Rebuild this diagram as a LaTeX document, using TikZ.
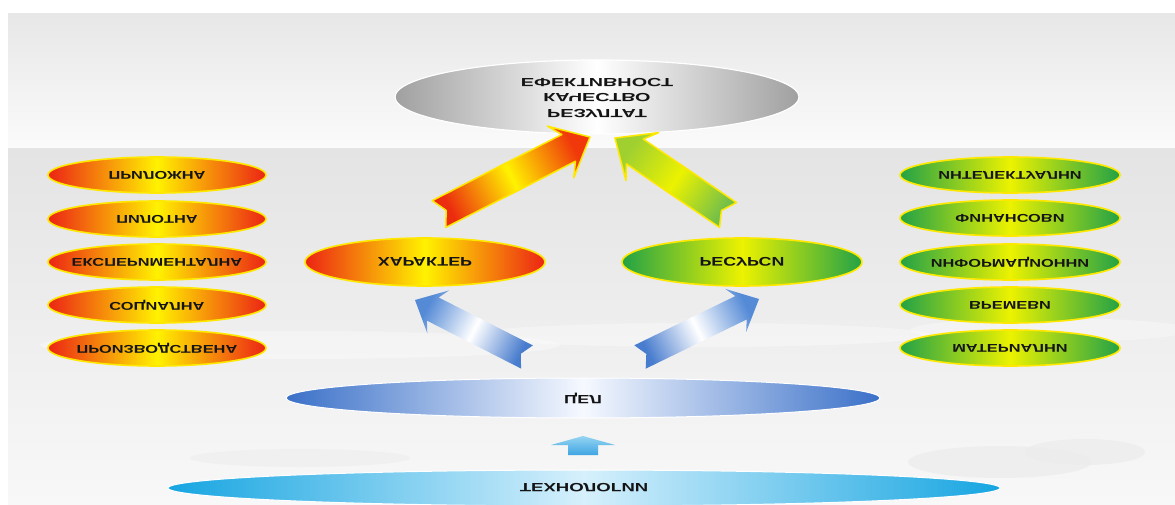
\documentclass[tikz,border=0pt]{standalone}
\usepackage{fontspec}
\setmainfont{Liberation Sans}
\usetikzlibrary{shapes.geometric,calc}
\definecolor{redE}{RGB}{236,36,20}
\definecolor{yelC}{RGB}{255,242,0}
\definecolor{yelO}{RGB}{255,232,0}
\definecolor{greenE}{RGB}{34,162,70}
\definecolor{greenC}{RGB}{236,242,0}
\definecolor{grayE}{RGB}{160,160,160}
\definecolor{blueE}{RGB}{58,112,200}
\definecolor{blueC}{RGB}{246,249,255}
\definecolor{cyanE}{RGB}{22,165,225}
\definecolor{cyanC}{RGB}{214,240,252}
\definecolor{txt}{RGB}{20,20,20}
\definecolor{bgA}{RGB}{231,231,231}
\definecolor{bgB}{RGB}{251,251,251}
\definecolor{bgC}{RGB}{228,228,228}
\definecolor{bgD}{RGB}{248,248,248}
\definecolor{cloud}{RGB}{236,236,236}
\definecolor{oTail}{RGB}{236,44,14}
\definecolor{oHead}{RGB}{240,56,10}
\definecolor{gTail}{RGB}{118,192,72}
\definecolor{gHead}{RGB}{160,208,48}
\definecolor{bTail}{RGB}{72,124,206}
\definecolor{bHead}{RGB}{84,138,214}
\definecolor{uTop}{RGB}{150,212,242}
\definecolor{uBot}{RGB}{62,165,226}
\newcommand\mirtxt[2]{\makebox[0pt]{\scalebox{#1}[-1]{#2}}}
% #1 tail, #2 tip, #3 half shaft, #4 half head, #5 neck distance, #6 barb distance, #7 notch, #8 style
\newcommand\blockarr[8]{%
  \coordinate (ba-n) at ($(#2)!#5!(#1)$);
  \coordinate (ba-b) at ($(#2)!#6!(#1)$);
  \coordinate (ba-k) at ($(#1)!#7!(#2)$);
  \path[#8] (#2) -- ($(ba-b)!#4!90:(#2)$) -- ($(ba-n)!#3!90:(#2)$)
    -- ($(#1)!#3!90:(#2)$) -- (ba-k) -- ($(#1)!#3!-90:(#2)$)
    -- ($(ba-n)!#3!-90:(#2)$) -- ($(ba-b)!#4!-90:(#2)$) -- cycle;
}
\tikzset{
  ell/.style={ellipse, inner sep=0pt, text=txt, font=\bfseries\fontsize{11.3}{13}\selectfont},
  redell/.style={ell, draw=yelO, line width=1.6pt, left color=redE, right color=redE, middle color=yelC},
  greenell/.style={ell, draw=yelO, line width=1.6pt, left color=greenE, right color=greenE, middle color=greenC},
  grayell/.style={ell, draw=white, line width=1.2pt, left color=grayE, right color=grayE, middle color=white},
  blueell/.style={ell, draw=white, line width=1pt, left color=blueE, right color=blueE, middle color=blueC},
  cyanell/.style={ell, draw=white, line width=1pt, left color=cyanE, right color=cyanE, middle color=cyanC},
  smallsz/.style={minimum width=218pt, minimum height=36pt},
  rightsz/.style={minimum width=220pt, minimum height=36pt},
  oarr/.style={draw=yelO, line width=1.5pt, line join=round, top color=oHead, bottom color=oTail, middle color=yelC, shading angle=#1},
  garr/.style={draw=yelO, line width=1.5pt, line join=round, top color=gHead, bottom color=gTail, middle color=greenC, shading angle=#1},
  barr/.style={top color=bHead, bottom color=bTail, middle color=white, shading angle=#1},
  uarr/.style={top color=uTop, bottom color=uBot},
}
\begin{document}
\begin{tikzpicture}[x=1pt,y=-1pt]
\useasboundingbox (0,0) rectangle (1175,505);
% background
\fill[white] (0,0) rectangle (1175,505);
\shade[top color=bgA, bottom color=bgB] (8,14) rectangle (1175,149);
\shade[top color=bgC, bottom color=bgD] (8,149) rectangle (1175,505);
% faint clouds / mountains
\fill[white, opacity=0.35] (300,345) ellipse [x radius=260pt, y radius=14pt];
\fill[white, opacity=0.35] (700,335) ellipse [x radius=230pt, y radius=12pt];
\fill[white, opacity=0.3] (1050,330) ellipse [x radius=140pt, y radius=12pt];
\fill[cloud, opacity=0.7] (1000,462) ellipse [x radius=92pt, y radius=16pt];
\fill[cloud, opacity=0.7] (1085,452) ellipse [x radius=60pt, y radius=13pt];
\fill[cloud, opacity=0.5] (300,458) ellipse [x radius=110pt, y radius=9pt];

% top result node
\node[grayell, minimum width=404pt, minimum height=74pt] (res) at (597,97)
  {\mirtxt{1.68}{\fontsize{11.8}{15.5}\selectfont\begin{tabular}{@{}c@{}}РЕЗУЛТАТ\\КАЧЕСТВО\\ЕФЕКТИВНОСТ\end{tabular}}};

% left column
\node[redell, smallsz] (l1) at (157,175) {\mirtxt{1.45}{ПРИЛОЖНА}};
\node[redell, smallsz] (l2) at (157,219) {\mirtxt{1.45}{ПИЛОТНА}};
\node[redell, smallsz] (l3) at (157,262) {\mirtxt{1.45}{ЕКСПЕРИМЕНТАЛНА}};
\node[redell, smallsz] (l4) at (157,305) {\mirtxt{1.45}{СОЦИАЛНА}};
\node[redell, smallsz] (l5) at (157,348) {\mirtxt{1.45}{ПРОИЗВОДСТВЕНА}};

% right column
\node[greenell, rightsz] (r1) at (1010,175) {\mirtxt{1.45}{ИНТЕЛЕКТУАЛНИ}};
\node[greenell, rightsz] (r2) at (1010,218) {\mirtxt{1.45}{ФИНАНСОВИ}};
\node[greenell, rightsz] (r3) at (1010,262) {\mirtxt{1.45}{ИНФОРМАЦИОННИ}};
\node[greenell, rightsz] (r4) at (1010,305) {\mirtxt{1.45}{ВРЕМЕВИ}};
\node[greenell, rightsz] (r5) at (1010,348) {\mirtxt{1.45}{МАТЕРИАЛНИ}};

% middle nodes
\node[redell, minimum width=240pt, minimum height=48pt, font=\bfseries\fontsize{12.5}{14}\selectfont] (har) at (425,262) {\mirtxt{1.43}{ХАРАКТЕР}};
\node[greenell, minimum width=240pt, minimum height=48pt, font=\bfseries\fontsize{12.5}{14}\selectfont] (resu) at (742,262) {\mirtxt{1.43}{РЕСУРСИ}};
\node[blueell, minimum width=594pt, minimum height=40pt, font=\bfseries\fontsize{12}{14}\selectfont] (cel) at (583,398) {\mirtxt{1.5}{ЦЕЛ}};
\node[cyanell, minimum width=832pt, minimum height=36pt, font=\bfseries\fontsize{12}{14}\selectfont] (teh) at (584,488) {\mirtxt{1.55}{ТЕХНОЛОГИИ}};

% arrow end points
\coordinate (oS) at (439,214); \coordinate (oT) at (590,137);
\coordinate (gS) at (728,215); \coordinate (gT) at (615,138);
\coordinate (blS) at (527,357); \coordinate (blT) at (415,300);
\coordinate (brS) at (640,357); \coordinate (brT) at (759,299);
\coordinate (uS) at (583,455); \coordinate (uT) at (583,436);

% arrows
\blockarr{oS}{oT}{15pt}{29pt}{24pt}{33pt}{8pt}{oarr=-63}
\blockarr{gS}{gT}{15pt}{29pt}{24pt}{33pt}{8pt}{garr=56}
\blockarr{blS}{blT}{13pt}{24pt}{20pt}{26pt}{7pt}{barr=63}
\blockarr{brS}{brT}{13pt}{24pt}{20pt}{26pt}{7pt}{barr=-64}
\blockarr{uS}{uT}{15pt}{32pt}{9pt}{9pt}{0pt}{uarr}
\end{tikzpicture}
\end{document}
